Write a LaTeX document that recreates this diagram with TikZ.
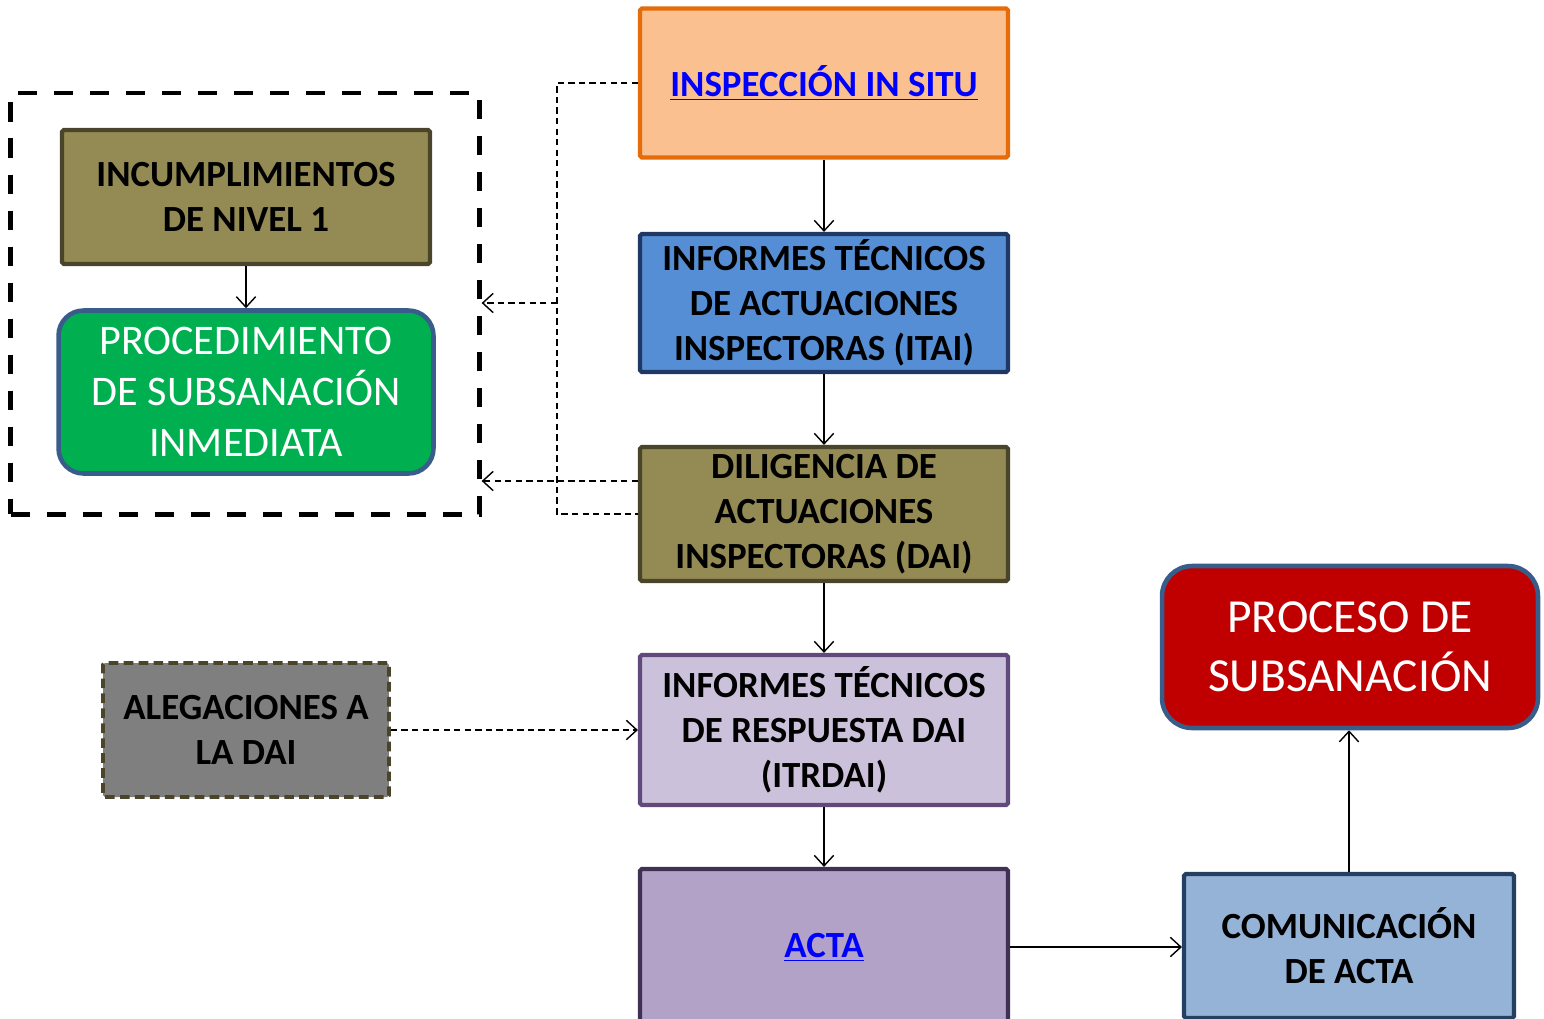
\documentclass[tikz,border=0pt]{standalone}
\usepackage{fontspec}
\setmainfont{Carlito}
\usepackage{xcolor}
\usetikzlibrary{arrows.meta}

\definecolor{naranja}{HTML}{E46C0A}
\definecolor{salmon}{HTML}{FAC090}
\definecolor{azul}{HTML}{558ED5}
\definecolor{marino}{HTML}{1F3864}
\definecolor{oliva}{HTML}{948A54}
\definecolor{olivaosc}{HTML}{4A452A}
\definecolor{lila}{HTML}{CCC1DA}
\definecolor{lilaosc}{HTML}{604A7B}
\definecolor{malva}{HTML}{B3A2C7}
\definecolor{malvaosc}{HTML}{3F3151}
\definecolor{verde}{HTML}{00B050}
\definecolor{acero}{HTML}{385D8A}
\definecolor{rojo}{HTML}{C00000}
\definecolor{celeste}{HTML}{95B3D7}
\definecolor{celesteosc}{HTML}{243F60}
\definecolor{gris}{HTML}{7F7F7F}

\newcommand{\enlace}[1]{\textcolor{blue}{\underline{#1}}}

\begin{document}
\begin{tikzpicture}[x=0.02cm, y=-0.02cm,
    caja/.style={draw, line width=2.4pt, rounded corners=1pt, minimum width=7.36cm,
        minimum height=2.68cm, align=center, font=\fontsize{21}{25.5}\selectfont\bfseries},
    redonda/.style={draw=acero, line width=2.6pt, align=center, text=white},
    flecha/.style={-{Straight Barb[length=6pt,width=11pt]}, line width=0.8pt},
    punteado/.style={dash pattern=on 3.6pt off 2.4pt, line width=0.8pt}]
\useasboundingbox (0,0) rectangle (1544,1018);

% columna central
\node (insp) [caja, draw=naranja, fill=salmon, minimum height=2.98cm] at (824,83)
    {\enlace{INSPECCIÓN IN SITU}};
\node (itai) [caja, draw=marino, fill=azul] at (824,303)
    {INFORMES TÉCNICOS\\DE ACTUACIONES\\INSPECTORAS (ITAI)};
\node (dai) [caja, draw=olivaosc, fill=oliva] at (824,514)
    {DILIGENCIA DE\\ACTUACIONES\\INSPECTORAS (DAI)};
\node (itrdai) [caja, draw=lilaosc, fill=lila, minimum height=3cm] at (824,730)
    {INFORMES TÉCNICOS\\DE RESPUESTA DAI\\(ITRDAI)};
\node (acta) [caja, draw=malvaosc, fill=malva, minimum height=3.12cm] at (824,947)
    {\enlace{ACTA}};

% bloque izquierdo
\node (grupo) [draw, line width=2.5pt, dash pattern=on 11pt off 9.5pt,
    minimum width=9.38cm, minimum height=8.43cm] at (245,303.75) {};
\node (incum) [caja, draw=olivaosc, fill=oliva] at (246,197)
    {INCUMPLIMIENTOS\\DE NIVEL 1};
\node (proc) [redonda, fill=verde, rounded corners=0.5cm, minimum width=7.5cm,
    minimum height=3.26cm, font=\fontsize{24}{29}\selectfont] at (246,392)
    {PROCEDIMIENTO\\DE SUBSANACIÓN\\INMEDIATA};
\node (aleg) [caja, draw=olivaosc, fill=gris, dash pattern=on 5.5pt off 3pt,
    line width=2.2pt, minimum width=5.72cm] at (246,730)
    {ALEGACIONES A\\LA DAI};

% bloque derecho
\node (subs) [redonda, fill=rojo, rounded corners=0.6cm, minimum width=7.52cm,
    minimum height=3.24cm, font=\fontsize{27}{33.5}\selectfont] at (1350,647)
    {PROCESO DE\\SUBSANACIÓN};
\node (comu) [caja, draw=celesteosc, fill=celeste, minimum width=6.6cm,
    minimum height=2.88cm] at (1349,946)
    {COMUNICACIÓN\\DE ACTA};

\foreach \a/\b in {insp/itai, itai/dai, dai/itrdai, itrdai/acta, incum/proc}
    \draw[flecha] (\a) -- (\b);
\draw[flecha] (acta.east) -- (acta.east -| comu.west);
\draw[flecha] (comu.north) -- (comu.north |- subs.south);
\draw[flecha, punteado] (aleg) -- (itrdai);

% retornos punteados
\draw[punteado] (insp.west) -- ++(-81,0) coordinate (bus) |- (dai.west);
\draw[flecha, punteado] (bus |- itai.west) -- (grupo.east |- itai.west);
\coordinate (daisal) at ([yshift=0.66cm]dai.west);
\draw[flecha, punteado] (daisal) -- (daisal -| grupo.east);
\end{tikzpicture}
\end{document}
